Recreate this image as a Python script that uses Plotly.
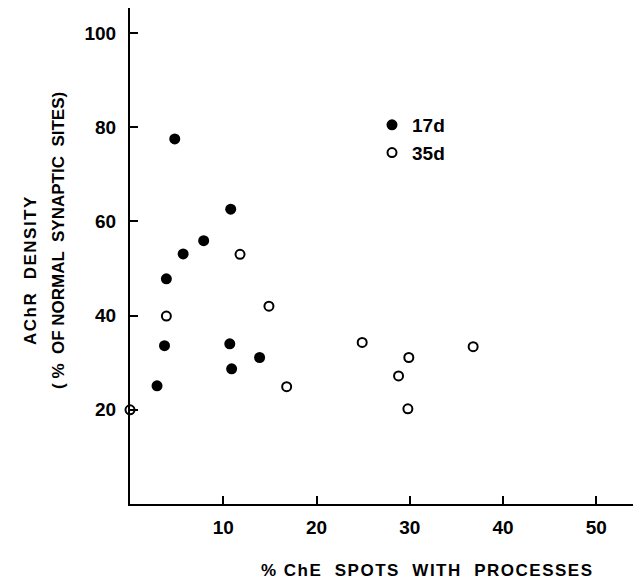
import plotly.graph_objects as go

# 17d (filled circles)
x_17d = [4.8, 10.8, 7.9, 5.7, 3.9, 3.7, 10.7, 10.9, 13.9, 2.9]
y_17d = [77.5, 62.6, 55.9, 53.1, 47.8, 33.6, 34.0, 28.7, 31.1, 25.1]

# 35d (open circles)
x_35d = [0.0, 11.8, 3.9, 14.9, 16.8, 24.9, 29.9, 28.8, 29.8, 36.8]
y_35d = [20.0, 53.0, 39.9, 42.0, 24.9, 34.3, 31.1, 27.2, 20.2, 33.4]

x_ticks = [10, 20, 30, 40, 50]
y_ticks = [20, 40, 60, 80, 100]

FONT = "Liberation Sans, Arial, Helvetica, sans-serif"

# page is offset by the default 8px body margin; work in page pixels
OFF = 8
PL, PR, PT, PB = 130, 641, 8, 504   # plot area in page pixels
W, H = 641 - OFF, 583 - OFF
PW, PH = PR - PL, PB - PT


def px(xp):
    return (xp - PL) / PW


def py(yp):
    return (PB - yp) / PH


def spaced(t, s=1.5):
    return f'<span style="letter-spacing:{s}px">{t}</span>'


fig = go.Figure()
fig.add_trace(go.Scatter(
    x=x_17d, y=y_17d, mode="markers", name="17d",
    marker=dict(symbol="circle", size=11, color="black", line=dict(width=0)),
    cliponaxis=False,
))
fig.add_trace(go.Scatter(
    x=x_35d, y=y_35d, mode="markers", name="35d",
    marker=dict(symbol="circle-open", size=9, color="black", line=dict(width=2, color="black")),
    cliponaxis=False,
))

fig.update_layout(
    width=W, height=H,
    margin=dict(l=PL - OFF, r=0, t=PT - OFF, b=H - (PB - OFF)),
    paper_bgcolor="white", plot_bgcolor="white",
    font=dict(family=FONT, size=18, color="black", weight="bold"),
    showlegend=True,
    legend=dict(
        x=px(372), y=py(106), xanchor="left", yanchor="top",
        bgcolor="rgba(0,0,0,0)", font=dict(size=19, color="black", family=FONT, weight="bold"),
        itemwidth=30, tracegroupgap=0,
    ),
    xaxis=dict(
        range=[0, 54.8], showgrid=False, zeroline=False,
        showline=True, linecolor="black", linewidth=2,
        ticks="inside", ticklen=8, tickwidth=2, tickcolor="black",
        tickvals=x_ticks, ticktext=[str(v) for v in x_ticks],
        tickfont=dict(size=19, family=FONT, weight="bold"),
        ticklabelstandoff=5,
    ),
    yaxis=dict(
        range=[0, 105.3], showgrid=False, zeroline=False,
        showline=True, linecolor="black", linewidth=2,
        ticks="inside", ticklen=8, tickwidth=2, tickcolor="black",
        tickvals=y_ticks, ticktext=[str(v) for v in y_ticks],
        tickfont=dict(size=19, family=FONT, weight="bold"),
        ticklabelstandoff=8,
    ),
    annotations=[
        dict(text=spaced("% ChE  SPOTS  WITH  PROCESSES", 1.5), xref="paper", yref="paper",
             x=px(427), y=py(570), xanchor="center", yanchor="middle",
             showarrow=False, font=dict(size=17, family=FONT, weight="bold")),
        dict(text=spaced("AChR  DENSITY", 1.5), xref="paper", yref="paper",
             x=px(30), y=py(270), xanchor="center", yanchor="middle",
             textangle=-90, showarrow=False, font=dict(size=17, family=FONT, weight="bold")),
        dict(text="( %  OF NORMAL  SYNAPTIC  SITES)", xref="paper", yref="paper",
             x=px(58), y=py(241), xanchor="center", yanchor="middle",
             textangle=-90, showarrow=False, font=dict(size=17, family=FONT, weight="bold")),
    ],
)

fig.write_html("out.html")
